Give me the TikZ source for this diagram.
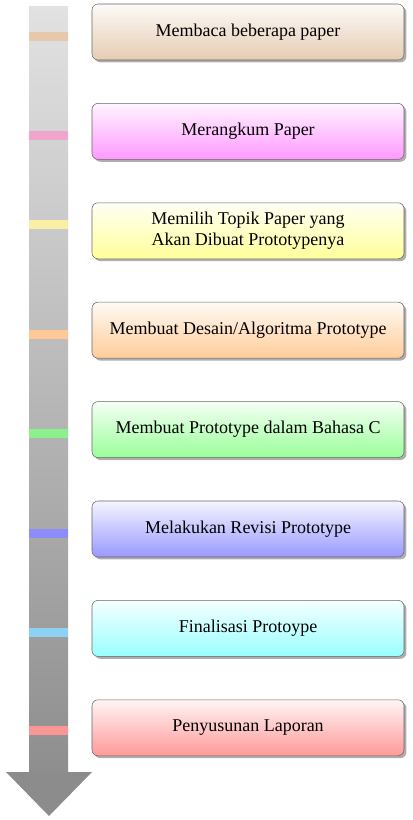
\documentclass[tikz,border=0pt]{standalone}
\usepackage{fontspec}
\setmainfont{Liberation Serif}
\usetikzlibrary{shadows}
\definecolor{shafttop}{RGB}{226,226,226}
\definecolor{shaftbot}{RGB}{142,142,142}
\definecolor{headcol}{RGB}{140,140,140}
\definecolor{mka}{RGB}{232,200,170}
\definecolor{mkb}{RGB}{240,165,205}
\definecolor{mkc}{RGB}{250,240,165}
\definecolor{mkd}{RGB}{255,200,150}
\definecolor{mke}{RGB}{140,240,140}
\definecolor{mkf}{RGB}{140,140,250}
\definecolor{mkg}{RGB}{140,210,245}
\definecolor{mkh}{RGB}{250,150,150}
\tikzset{
  stepbox/.style={draw=black!60, rounded corners=4.5pt, minimum width=234pt,
    minimum height=42pt, align=center, inner sep=0pt,
    font=\fontsize{13.5}{15.5}\selectfont,
    drop shadow={shadow xshift=1.8pt, shadow yshift=-1.8pt, fill=black!45, opacity=0.7}},
  shadeof/.style={top color=#1!4, bottom color=#1!40},
  marker/.style={fill=#1}
}
\begin{document}
\begin{tikzpicture}[x=0.75pt,y=-0.75pt]
\useasboundingbox (0,0) rectangle (412,820);
% arrow
\shade[top color=shafttop, bottom color=shaftbot] (29,7) rectangle (68,772);
\fill[headcol] (6,772) -- (92,772) -- (49,816) -- cycle;
% markers
\fill[marker=mka] (29,32) rectangle (68,41);
\fill[marker=mkb] (29,131) rectangle (68,140);
\fill[marker=mkc] (29,219.5) rectangle (68,228.5);
\fill[marker=mkd] (29,329.5) rectangle (68,338.5);
\fill[marker=mke] (29,428.5) rectangle (68,437.5);
\fill[marker=mkf] (29,528.5) rectangle (68,537.5);
\fill[marker=mkg] (29,627.5) rectangle (68,636.5);
\fill[marker=mkh] (29,726) rectangle (68,735);
% boxes
\node[stepbox, shadeof=brown]   (b1) at (248,32)    {Membaca beberapa paper};
\node[stepbox, shadeof=magenta] (b2) at (248,131.4) {Merangkum Paper};
\node[stepbox, shadeof=yellow]  (b3) at (248,230.8) {Memilih Topik Paper yang\\Akan Dibuat Prototypenya};
\node[stepbox, shadeof=orange]  (b4) at (248,330.2) {Membuat Desain/Algoritma Prototype};
\node[stepbox, shadeof=green]   (b5) at (248,429.6) {Membuat Prototype dalam Bahasa C};
\node[stepbox, shadeof=blue]    (b6) at (248,529)   {Melakukan Revisi Prototype};
\node[stepbox, shadeof=cyan]    (b7) at (248,628.4) {Finalisasi Protoype};
\node[stepbox, shadeof=red]     (b8) at (248,727.8) {Penyusunan Laporan};
\end{tikzpicture}
\end{document}
